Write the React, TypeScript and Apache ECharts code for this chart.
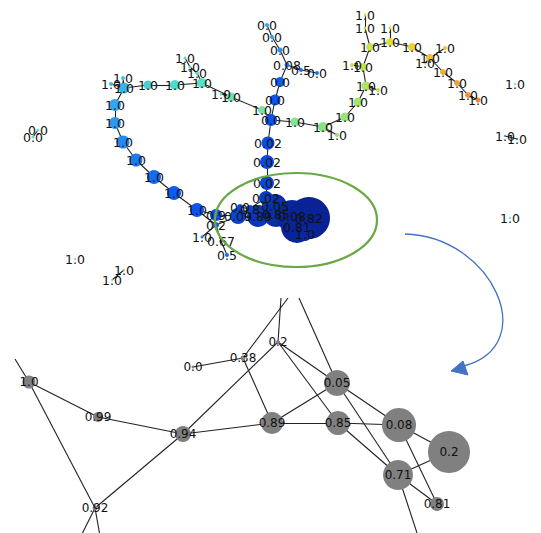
import React, { useEffect, useRef } from "react";
import * as echarts from "echarts";

// Node record: [id, layoutX, layoutY, degreeSize, tone (colormap value), label]
type N = [string, number, number, number, number, string];

// ---------- overview network ----------
const clusterNodes: N[] = [
  ["c10", 197, 210, 14, 0.2, "1.0"],
  ["c99", 216, 215, 12, 0.19, "0.9"],
  ["c94", 238, 216, 16, 0.15, "0.09"],
  ["c89", 258, 216, 22, 0.11, "0.89"],
  ["c85", 276, 214, 26, 0.07, "0.85"],
  ["c05", 275, 206, 24, 0.08, "0.05"],
  ["c08", 292, 216, 32, 0.04, "0.08"],
  ["c2b", 309, 218, 42, 0.02, "0.82"],
  ["c71", 297, 227, 32, 0.03, "0.81"],
  ["c81", 305, 234, 14, 0.05, "1.0"],
  ["c38", 250, 209, 8, 0.15, "0.8"],
  ["c00", 240, 207, 6, 0.16, "0.0"],
  ["c2s", 266, 198, 14, 0.12, "0.02"],
  ["c92", 216, 225, 6, 0.2, "0.2"],
  ["s1", 202, 237, 3, 0.25, "1.0"],
  ["s2", 221, 241, 3, 0.2, "0.67"],
  ["s3", 227, 255, 4, 0.24, "0.5"],
];

const verticalNodes: N[] = [
  ["v1", 267, 183, 14, 0.16, "0.02"],
  ["v2", 267, 162, 14, 0.17, "0.02"],
  ["v3", 268, 143, 13, 0.18, "0.02"],
  ["hub", 271, 120, 12, 0.19, "0.0"],
  ["u1", 275, 100, 11, 0.2, "0.0"],
  ["u2", 280, 82, 10, 0.21, "0.0"],
  ["u3", 287, 65, 5, 0.26, "0.08"],
  ["u4", 280, 50, 5, 0.28, "0.0"],
  ["u5", 272, 37, 4, 0.3, "0.0"],
  ["u6", 267, 25, 4, 0.31, "0.0"],
  ["u7", 301, 70, 4, 0.24, "0.5"],
  ["u8", 317, 73, 4, 0.25, "0.0"],
];

const loopNodes: N[] = [
  ["a1", 262, 110, 8, 0.46, "1.0"],
  ["a2", 231, 97, 9, 0.44, "1.0"],
  ["a2b", 221, 94, 3, 0.44, "1.0"],
  ["a3", 202, 83, 10, 0.41, "1.0"],
  ["a3a", 197, 73, 4, 0.41, "1.0"],
  ["a3b", 190, 67, 3, 0.4, "1.0"],
  ["a3c", 185, 58, 3, 0.4, "1.0"],
  ["a4", 175, 85, 10, 0.39, "1.0"],
  ["a5", 148, 85, 9, 0.37, "1.0"],
  ["a6", 124, 88, 11, 0.33, "1.0"],
  ["a6a", 111, 84, 4, 0.34, "1.0"],
  ["a6b", 123, 78, 4, 0.35, "1.0"],
  ["a7", 115, 105, 12, 0.31, "1.0"],
  ["a8", 115, 123, 12, 0.29, "1.0"],
  ["a9", 123, 142, 13, 0.27, "1.0"],
  ["a10", 136, 160, 13, 0.25, "1.0"],
  ["a11", 154, 177, 14, 0.23, "1.0"],
  ["a12", 174, 193, 14, 0.21, "1.0"],
];

const rightNodes: N[] = [
  ["r1", 295, 122, 9, 0.48, "1.0"],
  ["r2", 323, 127, 10, 0.5, "1.0"],
  ["r2s", 337, 135, 4, 0.52, "1.0"],
  ["r3", 345, 117, 9, 0.52, "1.0"],
  ["r4", 358, 102, 9, 0.54, "1.0"],
  ["r5", 366, 86, 9, 0.56, "1.0"],
  ["r5s", 378, 90, 4, 0.57, "1.0"],
  ["r6", 363, 67, 8, 0.58, "1.0"],
  ["r6s", 352, 65, 4, 0.6, "1.0"],
  ["r7", 370, 47, 8, 0.6, "1.0"],
  ["r7a", 365, 28, 3, 0.62, "1.0"],
  ["r7b", 365, 15, 3, 0.62, "1.0"],
  ["r8", 390, 42, 8, 0.64, "1.0"],
  ["r8s", 390, 28, 3, 0.64, "1.0"],
  ["r9", 412, 47, 8, 0.68, "1.0"],
  ["r10", 430, 58, 8, 0.71, "1.0"],
  ["r10s", 445, 48, 4, 0.7, "1.0"],
  ["r10t", 425, 63, 3, 0.7, "1.0"],
  ["r11", 443, 72, 6, 0.75, "1.0"],
  ["r12", 457, 83, 6, 0.77, "1.0"],
  ["r13", 468, 95, 6, 0.79, "1.0"],
  ["r14", 478, 100, 5, 0.82, "1.0"],
];

const isolatedNodes: N[] = [
  ["i1", 38, 130, 3, 0.42, "0.0"],
  ["i2", 33, 137, 3, 0.42, "0.0"],
  ["i3", 515, 84, 2, 0.42, "1.0"],
  ["i4", 510, 218, 2, 0.42, "1.0"],
  ["i5", 505, 136, 2, 0.27, "1.0"],
  ["i6", 517, 139, 2, 0.27, "1.0"],
  ["i7", 75, 259, 2, 0.45, "1.0"],
  ["i8", 124, 270, 2, 0.5, "1.0"],
  ["i9", 112, 280, 2, 0.5, "1.0"],
];

const topPaths: string[][] = [
  ["c2b", "c08", "c85", "c89", "c94", "c99", "c10", "a12", "a11", "a10", "a9", "a8", "a7", "a6", "a5", "a4", "a3", "a2", "a1", "hub"],
  ["c2s", "v1", "v2", "v3", "hub", "u1", "u2", "u3", "u4", "u5", "u6"],
  ["u3", "u7", "u8"],
  ["hub", "r1", "r2", "r3", "r4", "r5", "r6", "r7", "r8", "r9", "r10", "r11", "r12", "r13", "r14"],
  ["r2", "r2s"], ["r5", "r5s"], ["r6", "r6s"], ["r7", "r7a", "r7b"], ["r8", "r8s"], ["r10", "r10s"], ["r10", "r10t"],
  ["a3", "a3a", "a3b", "a3c"], ["a6", "a6a"], ["a6", "a6b"], ["a2", "a2b"],
  ["c10", "c92", "c94"], ["c92", "s1"], ["c92", "s2", "s3"],
  ["c94", "c2s", "c05", "c89"], ["c2s", "c85", "c71", "c2b"], ["c00", "c38", "c89"],
  ["c05", "c08", "c81", "c71", "c05"],
  ["i1", "i2"], ["i5", "i6"], ["i8", "i9"],
];

// ---------- magnified network (gray) ----------
const zoomNodes: N[] = [
  ["b1", 29, 382, 13, 0, "1.0"],
  ["b2", 98, 417, 10, 0, "0.99"],
  ["b3", 183, 434, 16, 0, "0.94"],
  ["b4", 95, 508, 5, 0, "0.92"],
  ["b5", 193, 367, 3, 0, "0.0"],
  ["b6", 243, 358, 5, 0, "0.38"],
  ["b7", 278, 342, 4, 0, "0.2"],
  ["b8", 337, 383, 26, 0, "0.05"],
  ["b9", 272, 423, 22, 0, "0.89"],
  ["b10", 338, 423, 24, 0, "0.85"],
  ["b11", 399, 425, 34, 0, "0.08"],
  ["b12", 449, 452, 42, 0, "0.2"],
  ["b13", 398, 475, 30, 0, "0.71"],
  ["b14", 437, 504, 14, 0, "0.81"],
  // neighbours outside the magnified window
  ["e1", 15, 359, 0, -1, ""],
  ["e2", 100, 536, 0, -1, ""],
  ["e3", 81, 536, 0, -1, ""],
  ["e4", 281, 298, 0, -1, ""],
  ["e5", 288, 298, 0, -1, ""],
  ["e6", 299, 298, 0, -1, ""],
  ["e7", 418, 536, 0, -1, ""],
];

const zoomPaths: string[][] = [
  ["e1", "b1", "b2", "b3", "b9", "b10", "b11", "b12", "b13", "e7"],
  ["b1", "b4", "e2"], ["e3", "b4", "b3", "b7", "e4"],
  ["b5", "b6", "e5"], ["b6", "b9", "b8", "b11", "b14", "b13", "b10", "b7", "b8", "e6"],
  ["b8", "b13"],
];

// colormap (tone -> colour)
const toneStops: [number, string][] = [
  [0.0, "#0a1e8c"], [0.1, "#0a33b4"], [0.2, "#0a55ee"], [0.3, "#30a0f0"],
  [0.4, "#55e0c8"], [0.5, "#8ee286"], [0.6, "#c8e24a"], [0.66, "#e8dc32"],
  [0.75, "#f0ac3a"], [0.85, "#ee7a2c"],
];

function hex(c: string): number[] {
  return [1, 3, 5].map((i) => parseInt(c.slice(i, i + 2), 16));
}
function toneColor(t: number): string {
  if (t <= toneStops[0][0]) return toneStops[0][1];
  for (let i = 1; i < toneStops.length; i++) {
    const [t1, c1] = toneStops[i];
    const [t0, c0] = toneStops[i - 1];
    if (t <= t1) {
      const f = (t - t0) / (t1 - t0);
      const a = hex(c0), b = hex(c1);
      const m = a.map((v, k) => Math.round(v + (b[k] - v) * f));
      return `rgb(${m[0]},${m[1]},${m[2]})`;
    }
  }
  return toneStops[toneStops.length - 1][1];
}

function graphSeries(nodes: N[], paths: string[][], gray: boolean) {
  const links: { source: string; target: string }[] = [];
  paths.forEach((p) => {
    for (let i = 0; i + 1 < p.length; i++) links.push({ source: p[i], target: p[i + 1] });
  });
  return {
    type: "graph",
    coordinateSystem: "cartesian2d",
    silent: true,
    data: nodes.map((n) => ({
      name: n[0],
      value: [n[1], n[2]],
      symbolSize: n[3],
      lab: n[5],
      itemStyle: { color: gray ? "#808080" : toneColor(n[4]), opacity: n[4] < 0 ? 0 : 1 },
    })),
    links,
    lineStyle: { color: "#222", width: 1.1, opacity: 1, curveness: 0 },
    label: {
      show: true,
      position: "inside",
      formatter: (p: any) => p.data.lab,
      color: "#111",
      fontSize: gray ? 12 : 12.5,
      fontFamily: "DejaVu Sans",
    },
    emphasis: { disabled: true },
  };
}

export default function App() {
  const ref = useRef<HTMLDivElement>(null);
  useEffect(() => {
    document.body.style.margin = "0";
    const chart = echarts.init(ref.current!, undefined, { renderer: "svg" });
    chart.setOption({
      animation: false,
      backgroundColor: "#ffffff",
      grid: { left: 0, right: 0, top: 0, bottom: 0 },
      xAxis: { type: "value", min: 0, max: 541, show: false },
      yAxis: { type: "value", min: 0, max: 533, inverse: true, show: false },
      series: [
        graphSeries([...clusterNodes, ...verticalNodes, ...loopNodes, ...rightNodes, ...isolatedNodes], topPaths, false),
        graphSeries(zoomNodes, zoomPaths, true),
      ],
      graphic: [
        {
          type: "ellipse",
          shape: { cx: 296, cy: 220, rx: 81, ry: 47 },
          style: { fill: "none", stroke: "#6aa845", lineWidth: 2.2 },
          z: 100,
        },
        {
          type: "bezierCurve",
          shape: { x1: 405, y1: 234, cpx1: 492, cpy1: 236, cpx2: 542, cpy2: 345, x2: 464, y2: 366 },
          style: { fill: "none", stroke: "#4472c4", lineWidth: 1.3 },
          z: 100,
        },
        {
          type: "polygon",
          shape: { points: [[451, 371], [463, 361], [468, 375]] },
          style: { fill: "#4472c4", stroke: "#4472c4", lineWidth: 1 },
          z: 100,
        },
      ],
    });
    return () => chart.dispose();
  }, []);
  return <div ref={ref} style={{ width: 541, height: 533, position: "absolute", left: 0, top: 0 }} />;
}
